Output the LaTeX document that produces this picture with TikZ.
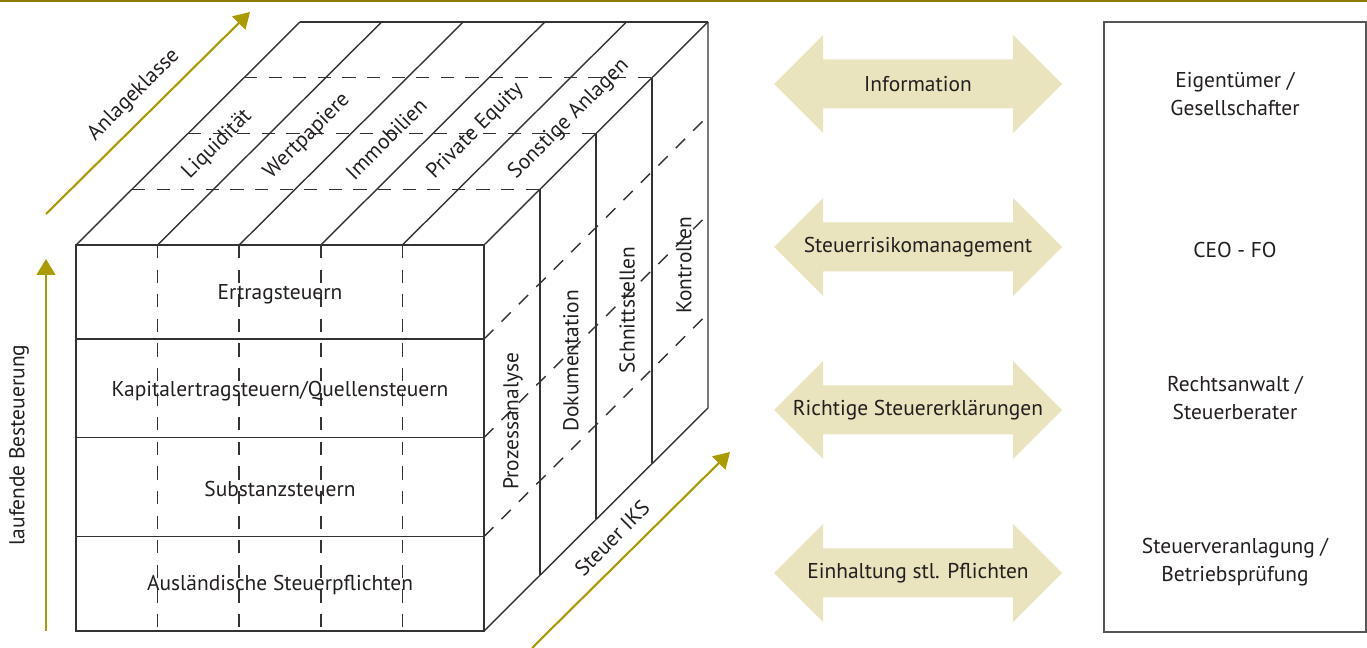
\documentclass[tikz,border=0pt]{standalone}
\usepackage{fontspec}
\setmainfont{PT Sans}
\usetikzlibrary{arrows.meta}
\definecolor{colive}{HTML}{A99B00}
\definecolor{cdarkolive}{HTML}{8C7E00}
\definecolor{cpale}{HTML}{E9E4BD}
\definecolor{cline}{HTML}{333333}
\definecolor{cframe}{HTML}{555555}
\definecolor{ctext}{HTML}{231F20}
\tikzset{
  every picture/.style={x=0.02cm, y=-0.02cm},
  lbl/.style={font=\fontsize{12.2}{15.9}\selectfont, text=ctext, align=center, inner sep=0pt},
  cubeline/.style={draw=cline, line width=0.8pt},
  cubedash/.style={cubeline, dash pattern=on 7.5pt off 6.5pt},
  axisarrow/.style={draw=colive, line width=1.2pt, -{Triangle[length=9pt, width=10.5pt]}},
  band/.style={fill=cpale},
  actorframe/.style={draw=cframe, line width=0.9pt},
}

\begin{document}
\begin{tikzpicture}
  \useasboundingbox (0,0) rectangle (1367,648);
  \fill[cdarkolive] (0,0) rectangle (1367,2.5);

  % the cube: front face 408 x 386, depth 224 at 45 degrees
  \draw[cubeline] (76,245) rectangle (484,631);
  \foreach \y in {339,437.5,536.5}
    \draw[cubeline] (76,\y) -- (484,\y);
  \foreach \c in {1,...,4}
    \draw[cubedash] ({76+81.6*\c},245) -- ({76+81.6*\c},631);
  % top face
  \foreach \c in {0,...,5}
    \draw[cubeline] ({76+81.6*\c},245) -- ++(224,-223);
  \draw[cubeline] (300,22) -- (708,22);
  \foreach \f in {1,2,3}
    \draw[cubedash] ({76+56*\f},{245-55.75*\f}) -- ++(408,0);
  % right face
  \draw[cubeline] (708,22) -- (708,408) -- (484,631);
  \foreach \f in {1,2,3}
    \draw[cubeline] ({484+56*\f},{245-55.75*\f}) -- ++(0,386);
  \foreach \y in {339,437.5,536.5}
    \draw[cubedash] (484,\y) -- ++(224,-223);

  % front labels
  \foreach \r/\y/\t in {1/294/Ertragsteuern, 2/391/{Kapitalertragsteuern/Quellensteuern},
                        3/489/Substanzsteuern, 4/585/Ausländische Steuerpflichten}
    \node[lbl] (tax\r) at (280,\y) {\t};
  % top labels
  \foreach \i/\t in {1/Liquidität, 2/Wertpapiere, 3/Immobilien, 4/Private Equity, 5/Sonstige Anlagen}
    \node[lbl, rotate=45, anchor=west] (asset\i) at ({76+81.6*(\i-0.5)+69},176) {\t};
  % side labels
  \foreach \i/\x/\y/\t in {1/513/490/Prozessanalyse, 2/571/432/Dokumentation,
                           3/627/374/Schnittstellen, 4/684/314/Kontrollen}
    \node[lbl, rotate=90, anchor=west] (iks\i) at (\x,\y) {\t};

  % axes
  \coordinate (classtail) at (46,214);
  \coordinate (classtip) at (250,12);
  \coordinate (runtail) at (46,631);
  \coordinate (runtip) at (46,259);
  \coordinate (ikstail) at (532,648);
  \coordinate (ikstip) at (730,452);
  \draw[axisarrow] (classtail) -- (classtip);
  \draw[axisarrow] (runtail) -- (runtip);
  \draw[axisarrow] (ikstail) -- (ikstip);
  \node[lbl, rotate=45] (classlbl) at (134,95) {Anlageklasse};
  \node[lbl, rotate=90] (runlbl) at (19,445) {laufende Besteuerung};
  \node[lbl, rotate=45] (ikslbl) at (612,538) {Steuer IKS};

  % double arrows
  \foreach \i/\yc/\t in {1/84/Information, 2/247/Steuerrisikomanagement,
                         3/410/Richtige Steuererklärungen, 4/573/Einhaltung stl. Pflichten} {
    \fill[band] (774,\yc) -- (823,{\yc-49}) -- (823,{\yc-24.5}) -- (1013,{\yc-24.5})
      -- (1013,{\yc-49}) -- (1062,\yc) -- (1013,{\yc+49}) -- (1013,{\yc+24.5})
      -- (823,{\yc+24.5}) -- (823,{\yc+49}) -- cycle;
    \node[lbl] (flow\i) at (918,\yc) {\t};
  }

  % actors
  \draw[actorframe] (1104,22) rectangle (1366,632);
  \node[lbl] (actor1) at (1235,94) {Eigentümer /\\Gesellschafter};
  \node[lbl] (actor2) at (1235,250) {CEO - FO};
  \node[lbl] (actor3) at (1235,398) {Rechtsanwalt /\\Steuerberater};
  \node[lbl] (actor4) at (1235,562) {Steuerveranlagung /\\Betriebsprüfung};
\end{tikzpicture}
\end{document}
